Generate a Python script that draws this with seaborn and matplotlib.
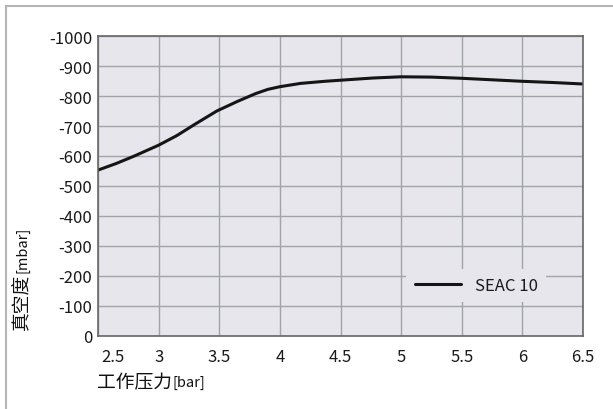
import numpy as np
import pandas as pd
import matplotlib
matplotlib.use("Agg")
import matplotlib.pyplot as plt
import matplotlib.transforms as mtransforms
from matplotlib.patches import Rectangle
import seaborn as sns

# working pressure [bar] vs vacuum [mbar]
pressure = [2.5, 2.65, 2.8, 3.0, 3.15, 3.3, 3.48, 3.65, 3.8, 3.9, 4.0, 4.17, 4.37, 4.55,
            4.77, 5.0, 5.25, 5.5, 5.75, 6.0, 6.25, 6.5]
vacuum = [-553, -575, -600, -636, -668, -706, -750, -782, -808, -822, -831, -842, -849, -854,
          -860, -864, -863, -859, -854, -849, -845, -840]
series_name = "SEAC 10"

x_ticks = [2.5, 3, 3.5, 4, 4.5, 5, 5.5, 6, 6.5]
x_tick_labels = ["2.5", "3", "3.5", "4", "4.5", "5", "5.5", "6", "6.5"]
y_ticks = [0, -100, -200, -300, -400, -500, -600, -700, -800, -900, -1000]
y_tick_labels = ["0", "-100", "-200", "-300", "-400", "-500", "-600", "-700", "-800", "-900", "-1000"]

bg = "#e6e6ec"
sns.set_style("white", rc={"axes.facecolor": bg, "grid.color": "#a3a3aa"})
plt.rcParams["font.family"] = ["Noto Sans CJK SC", "DejaVu Sans"]
plt.rcParams["axes.unicode_minus"] = False

df = pd.DataFrame({"pressure": pressure, "vacuum": vacuum, "series": series_name})

fig = plt.figure(figsize=(6.13, 4.10), dpi=100)
ax = fig.add_axes([98 / 613, 1 - 337 / 410, 485 / 613, 300 / 410])

# light outer frame of the original picture
fig.patches.append(Rectangle((6 / 613, -0.05), 1.2, 1 - 7 / 410 + 0.05, transform=fig.transFigure,
                             fill=False, edgecolor="#b5b5b5", linewidth=1.5))

sns.lineplot(data=df, x="pressure", y="vacuum", hue="series", palette=["#151515"],
             linewidth=2.2, ax=ax)
ax.get_lines()[0].set_solid_joinstyle("round")

ax.set_xlim(2.5, 6.5)
ax.set_ylim(0, -1000)
ax.set_xticks(x_ticks)
ax.set_xticklabels(x_tick_labels, fontsize=12, color="#1a1a1a")
ax.set_yticks(y_ticks)
ax.set_yticklabels(y_tick_labels, fontsize=12, color="#1a1a1a")
ax.tick_params(axis="both", length=0)
ax.tick_params(axis="x", pad=9)
ax.tick_params(axis="y", pad=4)
ax.grid(True, linewidth=1.0, color="#a3a3aa")
ax.set_axisbelow(True)
for s in ax.spines.values():
    s.set_color("#666666")
    s.set_linewidth(1.2)

# first x label sits a bit to the right of its tick
first = ax.get_xticklabels()[0]
first.set_transform(first.get_transform() + mtransforms.ScaledTranslation(0.15, 0, fig.dpi_scale_trans))

ax.set_xlabel("")
ax.set_ylabel("")

leg = ax.legend(loc="center", bbox_to_anchor=(0.78, 0.168), frameon=True, facecolor=bg,
                edgecolor="none", framealpha=1, fontsize=12, handlelength=2.8,
                borderpad=0.5, handletextpad=0.8)
for t in leg.get_texts():
    t.set_color("#1a1a1a")

# axis titles: larger CJK part + smaller unit part
fig.canvas.draw()
r = fig.canvas.get_renderer()

xl = fig.text(97 / 613, 1 - 383 / 410, "工作压力", fontsize=13.5, ha="left", va="center", color="#111111")
bb = xl.get_window_extent(r)
fig.text(bb.x1 / 613 + 0.001, 1 - 383 / 410, "[bar]", fontsize=10.5, ha="left", va="center",
         color="#111111")

yl = fig.text(22 / 613, 1 - 330 / 410, "真空度", fontsize=13.5, rotation=90, ha="center",
              va="bottom", color="#111111")
bb = yl.get_window_extent(r)
fig.text(22 / 613, bb.y1 / 410 + 0.002, "[mbar]", fontsize=10.5, rotation=90, ha="center",
         va="bottom", color="#111111")

fig.savefig("out.png", dpi=100)
